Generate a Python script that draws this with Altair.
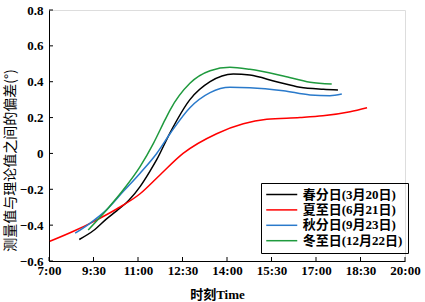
import altair as alt
import pandas as pd

# Series (time in hours on the chart's axis, deviation in degrees)
series_names = ["春分日(3月20日)", "夏至日(6月21日)", "秋分日(9月23日)", "冬至日(12月22日)"]
series_colors = ["#000000", "#ff0000", "#2a7acb", "#1f9a3e"]

spring_t = [9.02, 9.5, 9.94, 10.28, 10.7, 11.07, 11.40, 11.63, 12.08, 12.75, 13.43, 14.21, 14.77, 15.67, 16.46, 17.25, 17.74]
spring_v = [-0.48, -0.43, -0.365, -0.32, -0.26, -0.185, -0.10, -0.035, 0.115, 0.30, 0.40, 0.443, 0.437, 0.40, 0.369, 0.358, 0.354]

summer_t = [8.03, 8.88, 9.5, 10.28, 11.07, 11.74, 12.52, 13.65, 14.55, 15.34, 16.46, 17.23, 18.15, 18.72]
summer_v = [-0.49, -0.43, -0.38, -0.31, -0.225, -0.12, 0.0, 0.11, 0.165, 0.19, 0.20, 0.21, 0.233, 0.255]

autumn_t = [8.88, 9.38, 9.94, 10.5, 11.07, 11.63, 12.08, 12.75, 13.43, 14.1, 14.77, 15.9, 16.8, 17.47, 17.87]
autumn_v = [-0.445, -0.39, -0.315, -0.213, -0.11, 0.0, 0.11, 0.255, 0.339, 0.369, 0.367, 0.35, 0.326, 0.322, 0.331]

winter_t = [9.32, 9.94, 10.5, 11.07, 11.52, 11.91, 12.08, 12.75, 13.43, 14.1, 14.77, 15.9, 16.8, 17.53]
winter_v = [-0.427, -0.315, -0.204, -0.074, 0.056, 0.187, 0.242, 0.391, 0.461, 0.48, 0.469, 0.432, 0.397, 0.387]

x_ticks = [8, 9.5, 11, 12.5, 14, 15.5, 17, 18.5, 20]
x_labels = ["7:00", "9:30", "11:00", "12:30", "14:00", "15:30", "17:00", "18:30", "20:00"]
y_ticks = [-0.6, -0.4, -0.2, 0, 0.2, 0.4, 0.6, 0.8]

rows = []
for name, ts, vs in zip(series_names, [spring_t, summer_t, autumn_t, winter_t],
                        [spring_v, summer_v, autumn_v, winter_v]):
    for t, v in zip(ts, vs):
        rows.append({"series": name, "t": t, "v": v})
df = pd.DataFrame(rows)

W, H = 356, 251
label_font = "Liberation Serif, Noto Sans CJK SC"
label_expr = "[" + ",".join("'%s'" % s for s in x_labels) + "][round((datum.value-8)/1.5)]"

xscale = alt.Scale(domain=[8, 20], nice=False, zero=False)
yscale = alt.Scale(domain=[-0.6, 0.8], nice=False, zero=False)

xaxis = alt.Axis(values=x_ticks, labelExpr=label_expr, title="时刻Time",
                 ticks=False, grid=False, domainColor="black", domainWidth=1,
                 labelFont=label_font, labelFontSize=13, labelFontWeight="bold",
                 labelColor="black", labelPadding=3, labelFlush=False,
                 labelOverlap=False,
                 titleFont=label_font, titleFontSize=13, titleFontWeight="bold",
                 titleColor="black", titleX=168, titleY=33, titleBaseline="middle",
                 titleAlign="center")
yaxis = alt.Axis(values=y_ticks, format=".1~f", title="测量值与理论值之间的偏差(°)",
                 ticks=False, grid=False, domainColor="black", domainWidth=1,
                 labelFont=label_font, labelFontSize=13, labelFontWeight="bold",
                 labelColor="black", labelPadding=6, labelFlush=False,
                 labelOverlap=False,
                 titleFont="Noto Sans CJK SC", titleFontSize=14, titleFontWeight="normal",
                 titleColor="black", titleX=-39, titleY=150, titleBaseline="middle",
                 titleAlign="center", titleAngle=270)

lines = alt.Chart(df).mark_line(interpolate="monotone", strokeWidth=1.5).encode(
    x=alt.X("t:Q", scale=xscale, axis=xaxis),
    y=alt.Y("v:Q", scale=yscale, axis=yaxis),
    color=alt.Color("series:N", scale=alt.Scale(domain=series_names, range=series_colors),
                    sort=series_names,
                    legend=alt.Legend(title=None, orient="none", legendX=212, legendY=173,
                                      strokeColor="black", padding=5, symbolType="M-6,0H6",
                                      symbolSize=26.7, symbolStrokeWidth=1.5,
                                      symbolOffset=9.25, labelOffset=14.5,
                                      rowPadding=1.4, labelFont=label_font, labelFontSize=13,
                                      labelFontWeight="bold", labelColor="black")),
)

xt = pd.DataFrame({"t": x_ticks})
yt = pd.DataFrame({"v": y_ticks})
xticks = alt.Chart(xt).mark_rule(color="black", strokeWidth=1).encode(
    x=alt.X("t:Q", scale=xscale, axis=xaxis), y=alt.value(H), y2=alt.value(H - 4))
yticks = alt.Chart(yt).mark_rule(color="black", strokeWidth=1).encode(
    y=alt.Y("v:Q", scale=yscale, axis=yaxis), x=alt.value(0), x2=alt.value(4))

chart = alt.layer(lines, xticks, yticks).properties(
    width=W, height=H, autosize="none",
    padding={"left": 49, "top": 10, "right": 20, "bottom": 41},
).configure_view(stroke=None).configure(background="white")

chart.save("out.html", embed_options={"renderer": "svg", "actions": False})
